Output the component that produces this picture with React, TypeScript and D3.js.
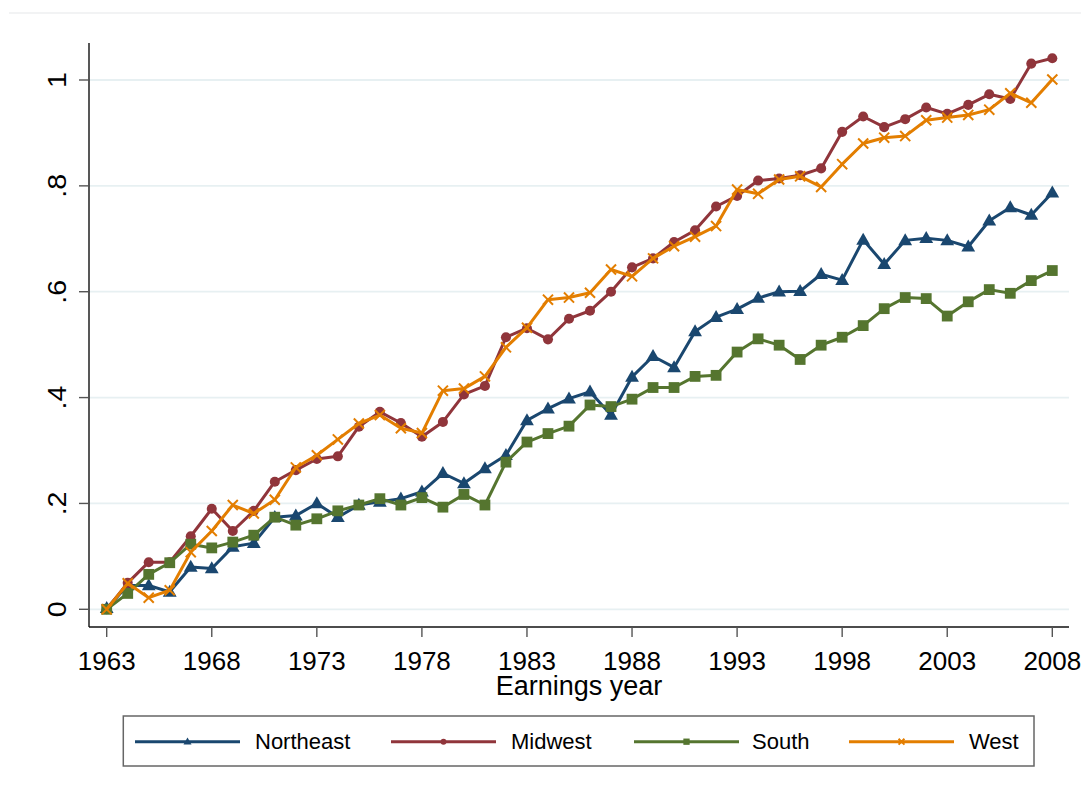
import React from "react";
import * as d3 from "d3";

const years: number[] = d3.range(1963, 2009);

const northeast: number[] = [
  0.002, 0.045, 0.045, 0.033, 0.080, 0.077, 0.118, 0.125, 0.174, 0.177,
  0.200, 0.174, 0.197, 0.203, 0.209, 0.222, 0.257, 0.238, 0.266, 0.291,
  0.357, 0.379, 0.398, 0.411, 0.367, 0.439, 0.478, 0.457, 0.525, 0.552,
  0.567, 0.588, 0.600, 0.601, 0.633, 0.622, 0.698, 0.652, 0.697, 0.701,
  0.697, 0.685, 0.734, 0.759, 0.745, 0.787,
];

const midwest: number[] = [
  0.000, 0.050, 0.089, 0.089, 0.138, 0.190, 0.148, 0.186, 0.241, 0.263,
  0.284, 0.289, 0.345, 0.373, 0.352, 0.326, 0.354, 0.406, 0.422, 0.514,
  0.531, 0.510, 0.549, 0.564, 0.600, 0.646, 0.663, 0.694, 0.716, 0.761,
  0.781, 0.810, 0.814, 0.820, 0.833, 0.902, 0.931, 0.911, 0.926, 0.948,
  0.936, 0.953, 0.973, 0.964, 1.031, 1.041,
];

const south: number[] = [
  0.000, 0.030, 0.066, 0.088, 0.123, 0.116, 0.127, 0.140, 0.174, 0.159,
  0.171, 0.186, 0.197, 0.209, 0.197, 0.211, 0.193, 0.217, 0.197, 0.278,
  0.316, 0.332, 0.346, 0.386, 0.383, 0.397, 0.419, 0.419, 0.440, 0.442,
  0.486, 0.511, 0.499, 0.472, 0.499, 0.514, 0.536, 0.568, 0.589, 0.587,
  0.554, 0.581, 0.604, 0.597, 0.621, 0.640,
];

const west: number[] = [
  0.000, 0.049, 0.022, 0.036, 0.108, 0.148, 0.197, 0.181, 0.207, 0.268,
  0.291, 0.321, 0.351, 0.367, 0.342, 0.333, 0.413, 0.417, 0.440, 0.495,
  0.532, 0.585, 0.589, 0.598, 0.642, 0.629, 0.663, 0.686, 0.704, 0.724,
  0.793, 0.785, 0.812, 0.818, 0.798, 0.841, 0.880, 0.891, 0.894, 0.924,
  0.929, 0.934, 0.944, 0.975, 0.957, 1.001,
];

const xTicks: number[] = [1963, 1968, 1973, 1978, 1983, 1988, 1993, 1998, 2003, 2008];
const yTicks: number[] = [0, 0.2, 0.4, 0.6, 0.8, 1];
const yTickLabels: string[] = ["0", ".2", ".4", ".6", ".8", "1"];

const seriesNames: string[] = ["Northeast", "Midwest", "South", "West"];
const seriesColors: string[] = ["#1a476f", "#90353b", "#55752f", "#e37e00"];
const seriesMarkers: string[] = ["triangle", "circle", "square", "x"];
const seriesData: number[][] = [northeast, midwest, south, west];

const xTitle = "Earnings year";
const FONT = "Arial, 'Liberation Sans', sans-serif";

function Marker({ kind, x, y, color, s }: { kind: string; x: number; y: number; color: string; s: number }) {
  if (kind === "triangle") {
    const h = s * 1.0;
    const w = s * 1.15;
    return (
      <path
        d={`M${x},${y - h * 0.6} L${x + w / 2},${y + h * 0.4} L${x - w / 2},${y + h * 0.4} Z`}
        fill={color}
      />
    );
  }
  if (kind === "circle") {
    return <circle cx={x} cy={y} r={s * 0.42} fill={color} />;
  }
  if (kind === "square") {
    const a = s * 0.9;
    return <rect x={x - a / 2} y={y - a / 2} width={a} height={a} fill={color} />;
  }
  const a = s * 0.42;
  return (
    <path
      d={`M${x - a},${y - a} L${x + a},${y + a} M${x - a},${y + a} L${x + a},${y - a}`}
      stroke={color}
      strokeWidth={2}
      fill="none"
    />
  );
}

export default function App() {
  const W = 1081;
  const H = 793;
  const axisLeft = 89;
  const axisRight = 1069;
  const axisBottom = 627;
  const axisTop = 43;

  const x = d3.scaleLinear().domain([1963, 2008]).range([106.7, 1052.3]);
  const y = d3.scaleLinear().domain([0, 1]).range([609.3, 80]);

  const line = d3
    .line<number>()
    .x((_, i) => x(years[i]))
    .y((d) => y(d));

  const legendItems = [
    { lineStart: 135, text: 255 },
    { lineStart: 391, text: 511 },
    { lineStart: 634, text: 752 },
    { lineStart: 849, text: 969 },
  ];

  return (
    <svg
      width={W}
      height={H}
      style={{ position: "absolute", left: 0, top: 0, background: "#fff" }}
      fontFamily={FONT}
    >
      <rect x={0} y={0} width={W} height={H} fill="#fff" />
      <line x1={9} x2={W} y1={13} y2={13} stroke="#e6e8ea" strokeWidth={1.2} />

      {/* grid */}
      {yTicks.map((t) => (
        <line key={"g" + t} x1={axisLeft} x2={axisRight} y1={y(t)} y2={y(t)} stroke="#e7f0f2" strokeWidth={1.8} />
      ))}

      {/* axes */}
      <line x1={axisLeft} x2={axisLeft} y1={axisTop} y2={axisBottom} stroke="#111" strokeWidth={1.4} />
      <line x1={axisLeft} x2={axisRight} y1={axisBottom} y2={axisBottom} stroke="#111" strokeWidth={1.4} />

      {yTicks.map((t, i) => (
        <g key={"yt" + t}>
          <line x1={79} x2={axisLeft} y1={y(t)} y2={y(t)} stroke="#555" strokeWidth={1.4} />
          <text
            transform={`translate(66,${y(t)}) rotate(-90) scale(1.1,1)`}
            textAnchor="middle"
            fontSize={26}
            fill="#000"
          >
            {yTickLabels[i]}
          </text>
        </g>
      ))}

      {xTicks.map((t) => (
        <g key={"xt" + t}>
          <line x1={x(t)} x2={x(t)} y1={axisBottom} y2={637} stroke="#555" strokeWidth={1.4} />
          <text x={x(t)} y={669.5} textAnchor="middle" fontSize={26} fill="#000">
            {t}
          </text>
        </g>
      ))}

      <text x={(axisLeft + axisRight) / 2} y={695} textAnchor="middle" fontSize={27} fill="#000">
        {xTitle}
      </text>

      {/* series */}
      {seriesData.map((d, si) => (
        <g key={"s" + si}>
          <path d={line(d) || ""} fill="none" stroke={seriesColors[si]} strokeWidth={3} strokeLinejoin="round" />
          {d.map((v, i) => (
            <Marker key={i} kind={seriesMarkers[si]} x={x(years[i])} y={y(v)} color={seriesColors[si]} s={12} />
          ))}
        </g>
      ))}

      {/* legend */}
      <rect x={123.3} y={716} width={910.7} height={50} fill="#fff" stroke="#666" strokeWidth={1.5} />
      {seriesNames.map((n, i) => {
        const it = legendItems[i];
        const ly = 741.7;
        return (
          <g key={"l" + n}>
            <line x1={it.lineStart} x2={it.lineStart + 105} y1={ly} y2={ly} stroke={seriesColors[i]} strokeWidth={3} />
            <Marker kind={seriesMarkers[i]} x={it.lineStart + 52.5} y={ly} color={seriesColors[i]} s={7} />
            <text x={it.text} y={749.3} fontSize={22} fill="#000">
              {n}
            </text>
          </g>
        );
      })}
    </svg>
  );
}
